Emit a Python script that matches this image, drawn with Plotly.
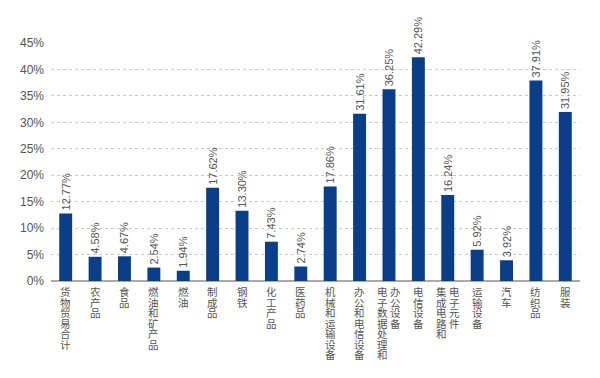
import plotly.graph_objects as go

categories = ["货物贸易合计", "农产品", "食品", "燃油和矿产品", "燃油", "制成品", "钢铁", "化工产品", "医药品",
              "机械和运输设备", "办公和电信设备", "电子数据处理和办公设备", "电信设备", "集成电路和电子元件",
              "运输设备", "汽车", "纺织品", "服装"]
# label columns as displayed (vertical text, some in two columns)
label_columns = [["货物贸易合计"], ["农产品"], ["食品"], ["燃油和矿产品"], ["燃油"], ["制成品"], ["钢铁"],
                 ["化工产品"], ["医药品"], ["机械和运输设备"], ["办公和电信设备"], ["电子数据处理和", "办公设备"],
                 ["电信设备"], ["集成电路和", "电子元件"], ["运输设备"], ["汽车"], ["纺织品"], ["服装"]]
values = [12.77, 4.58, 4.67, 2.54, 1.94, 17.62, 13.30, 7.43, 2.74, 17.86, 31.61, 36.25, 42.29, 16.24,
          5.92, 3.92, 37.91, 31.95]
y_ticks = [0, 5, 10, 15, 20, 25, 30, 35, 40, 45]

BAR = "#0a3f88"
GRAY = "#555555"

fig = go.Figure()
fig.add_trace(go.Bar(
    x=list(range(len(categories))), y=values,
    marker=dict(color=BAR, line=dict(width=0)),
    text=[f"{v:.2f}%" for v in values], textposition="outside", textangle=-90,
    textfont=dict(size=11, color=GRAY, family="Liberation Sans, Arial"),
    cliponaxis=False, constraintext="none", width=0.44,
    hoverinfo="skip",
))

annotations = []
for i, cols in enumerate(label_columns):
    n = len(cols)
    for c, col in enumerate(cols):
        xs = 0 if n == 1 else (-6.5 if c == 0 else 6.5)
        txt = "<br>".join(f"<span style='font-size:10.5px'>{ch}</span>" for ch in col)
        annotations.append(dict(
            x=i, y=0, xref="x", yref="paper", text=txt, showarrow=False,
            xanchor="center", yanchor="top", xshift=xs, yshift=-2,
            font=dict(size=8.1, color=GRAY, family="Noto Sans CJK SC"),
            borderpad=0, align="center",
        ))

# the page body has an 8px margin, so the figure is offset by 8px
fig.update_layout(
    width=592, height=370,
    margin=dict(l=38, r=20, t=35, b=97),
    paper_bgcolor="white", plot_bgcolor="white",
    showlegend=False, annotations=annotations,
    xaxis=dict(range=[-0.5, len(categories) - 0.5], showticklabels=False, ticks="",
               showgrid=False, zeroline=False, showline=False, fixedrange=True),
    yaxis=dict(range=[0, 45], tickvals=y_ticks, ticktext=[f"{t}%" for t in y_ticks],
               tickfont=dict(size=12, color=GRAY, family="Liberation Sans, Arial"),
               showgrid=True, gridcolor="#c8c8c8", griddash="dot", gridwidth=1,
               zeroline=True, zerolinecolor="#aaaaaa", zerolinewidth=2,
               showline=False, ticks="", ticklabelstandoff=6, fixedrange=True),
)

fig.write_html("out.html")
